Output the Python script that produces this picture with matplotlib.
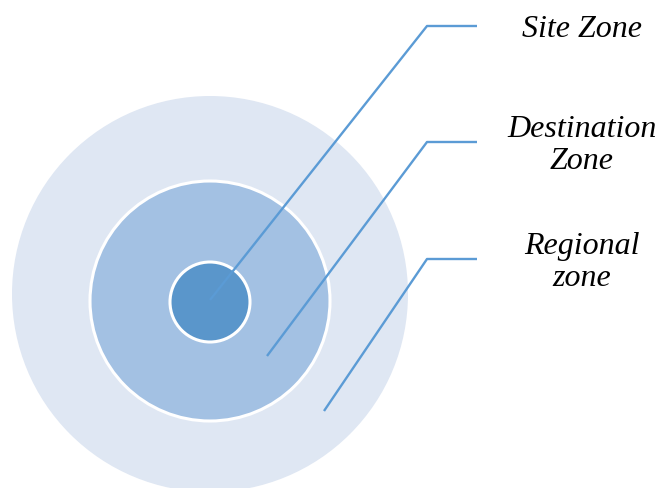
import matplotlib.pyplot as plt
from matplotlib.patches import Circle

# zones, drawn from the outside in
zones = ['Regional\nzone', 'Destination\nZone', 'Site Zone']
radii = [198, 120, 40]
centers_y = [295, 302, 303]
center_x = 210

# where each leader line starts (inside its zone) and the label row
starts = [(324, 412), (267, 357), (210, 301)]
label_y = [260, 143, 27]


def main():
    fig = plt.figure(figsize=(6.59, 4.89), dpi=100)
    ax = fig.add_axes([0, 0, 1, 1])
    ax.set_xlim(0, 659)
    ax.set_ylim(489, 0)
    ax.set_aspect('equal')
    ax.axis('off')

    fills = ['#dfe7f3', '#a3c1e3', '#5a96cb']
    edges = ['none', 'white', 'white']
    for r, cy, fc, ec in zip(radii, centers_y, fills, edges):
        ax.add_patch(Circle((center_x, cy), r, fc=fc, ec=ec, lw=2.2))

    # leader lines + labels
    for (sx, sy), ly, name in zip(starts, label_y, zones):
        ax.plot([sx, 427, 477], [sy, ly, ly], color='#5b9bd5', lw=1.7,
                solid_capstyle='butt')
        # va=center sits a little high for this font, nudge down
        ax.text(582, ly + 2.5, name, ha='center', va='center', fontsize=23,
                family='Liberation Serif', style='italic', linespacing=1.12)

    fig.savefig('out.png', dpi=100)


if __name__ == "__main__":
    main()
